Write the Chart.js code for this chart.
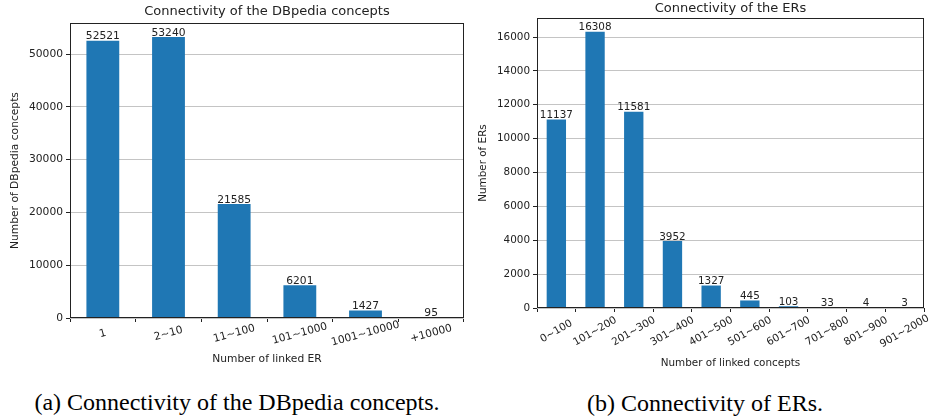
<!DOCTYPE html>
<html><head><meta charset="utf-8">
<script src="https://cdn.jsdelivr.net/npm/chart.js@4.4.1/dist/chart.umd.min.js"></script>
<style>
html,body{margin:0;padding:0;background:#fff;width:932px;height:419px;overflow:hidden;position:relative}
canvas{position:absolute;top:0}
.cap{position:absolute;font-family:"Liberation Serif","Times New Roman",serif;font-size:24px;color:#000;white-space:nowrap;transform:translate(-50%,-50%)}
</style></head><body>
<canvas id="c1" width="470" height="375" style="left:0;width:470px;height:375px"></canvas>
<canvas id="c2" width="462" height="375" style="left:470px;width:462px;height:375px"></canvas>
<div class="cap" style="left:237px;top:402px">(a) Connectivity of the DBpedia concepts.</div>
<div class="cap" style="left:705px;top:403px">(b) Connectivity of ERs.</div>
<script>
const conceptCategories = ['1', '2~10', '11~100', '101~1000', '1001~10000', '+10000'];
const conceptCounts = [52521, 53240, 21585, 6201, 1427, 95];
const conceptTicks = [0, 10000, 20000, 30000, 40000, 50000];
const conceptMax = 55902;

const erCategories = ['0~100', '101~200', '201~300', '301~400', '401~500', '501~600', '601~700', '701~800', '801~900', '901~2000'];
const erCounts = [11137, 16308, 11581, 3952, 1327, 445, 103, 33, 4, 3];
const erTicks = [0, 2000, 4000, 6000, 8000, 10000, 12000, 14000, 16000];
const erMax = 17123;

Chart.defaults.font.family = '"DejaVu Sans", sans-serif';
Chart.defaults.color = '#222';

const BLUE = '#1f77b4';
const DARK = '#222';
const GRID = '#c4c4c4';

const framePlugin = {
  id: 'frame',
  afterDatasetsDraw(chart, args, opts) {
    const ctx = chart.ctx, a = chart.chartArea;
    ctx.save();
    ctx.fillStyle = DARK;
    ctx.font = opts.fontSize + 'px "DejaVu Sans"';
    ctx.textAlign = 'center';
    ctx.textBaseline = 'alphabetic';
    const meta = chart.getDatasetMeta(0);
    const vals = chart.data.datasets[0].data;
    meta.data.forEach((bar, i) => {
      ctx.fillText(String(vals[i]), bar.x, bar.y - 1.5);
    });
    ctx.strokeStyle = DARK;
    ctx.lineWidth = 1;
    const l = Math.round(a.left) + 0.5, t = Math.round(a.top) + 0.5;
    const r = Math.round(a.right) - 0.5, b = Math.round(a.bottom) - 0.5;
    ctx.strokeRect(l, t, r - l, b - t);
    ctx.restore();
  }
};

function makeChart(id, cfg) {
  const fs = cfg.fontSize;
  return new Chart(document.getElementById(id), {
    type: 'bar',
    data: {
      labels: cfg.labels,
      datasets: [{
        data: cfg.values,
        backgroundColor: BLUE,
        borderWidth: 0,
        barPercentage: 0.5,
        categoryPercentage: 1.0
      }]
    },
    options: {
      responsive: false,
      animation: false,
      events: [],
      layout: { padding: { left: 0, right: cfg.padRight, top: 0, bottom: 0 } },
      plugins: {
        legend: { display: false },
        tooltip: { enabled: false },
        title: {
          display: true,
          text: cfg.title,
          fullSize: false,
          color: DARK,
          font: { size: 13, weight: 'normal', lineHeight: 1.2 },
          padding: cfg.titlePad
        },
        frame: { fontSize: fs }
      },
      scales: {
        x: {
          grid: { display: true, drawOnChartArea: false, drawTicks: true, tickLength: 4, tickColor: DARK },
          border: { display: false },
          ticks: {
            color: DARK, font: { size: fs }, padding: cfg.xTickPad,
            minRotation: cfg.rotation, maxRotation: cfg.rotation, autoSkip: false
          },
          title: {
            display: true, text: cfg.xTitle, color: DARK,
            font: { size: fs, lineHeight: 1.2 }, padding: { top: 0, bottom: cfg.xTitlePad }
          },
          beforeUpdate(s) { s._getXAxisLabelAlignment = () => 'center'; },
          afterFit(s) { s.height = cfg.xHeight; s._getXAxisLabelAlignment = () => 'center'; }
        },
        y: {
          min: 0,
          max: cfg.max,
          grid: { display: true, color: GRID, lineWidth: 1, drawTicks: true, tickLength: 4, tickColor: DARK },
          border: { display: false },
          ticks: {
            color: DARK, font: { size: fs }, padding: 3, includeBounds: false,
            callback: (v) => String(v)
          },
          afterBuildTicks(s) { s.ticks = cfg.ticks.map(v => ({ value: v })); },
          title: {
            display: true, text: cfg.yTitle, color: DARK,
            font: { size: fs, lineHeight: 1.2 }, padding: { top: cfg.yTitlePad, bottom: 0 }
          },
          afterFit(s) { s.width = cfg.yWidth; }
        }
      }
    },
    plugins: [framePlugin]
  });
}

makeChart('c1', {
  labels: conceptCategories, values: conceptCounts, ticks: conceptTicks, max: conceptMax,
  title: 'Connectivity of the DBpedia concepts',
  xTitle: 'Number of linked ER', yTitle: 'Number of DBpedia concepts',
  fontSize: 10.7, rotation: 15, padRight: 6,
  titlePad: { top: 4, bottom: 3.4 },
  xHeight: 57, xTickPad: 5.5, xTitlePad: 9.6,
  yWidth: 70, yTitlePad: 8.6
});

makeChart('c2', {
  labels: erCategories, values: erCounts, ticks: erTicks, max: erMax,
  title: 'Connectivity of the ERs',
  xTitle: 'Number of linked concepts', yTitle: 'Number of ERs',
  fontSize: 10.4, rotation: 30, padRight: 8,
  titlePad: { top: 0.6, bottom: 1.8 },
  xHeight: 67, xTickPad: 14, xTitlePad: 5.8,
  yWidth: 67, yTitlePad: 6.8
});
</script>
</body></html>
